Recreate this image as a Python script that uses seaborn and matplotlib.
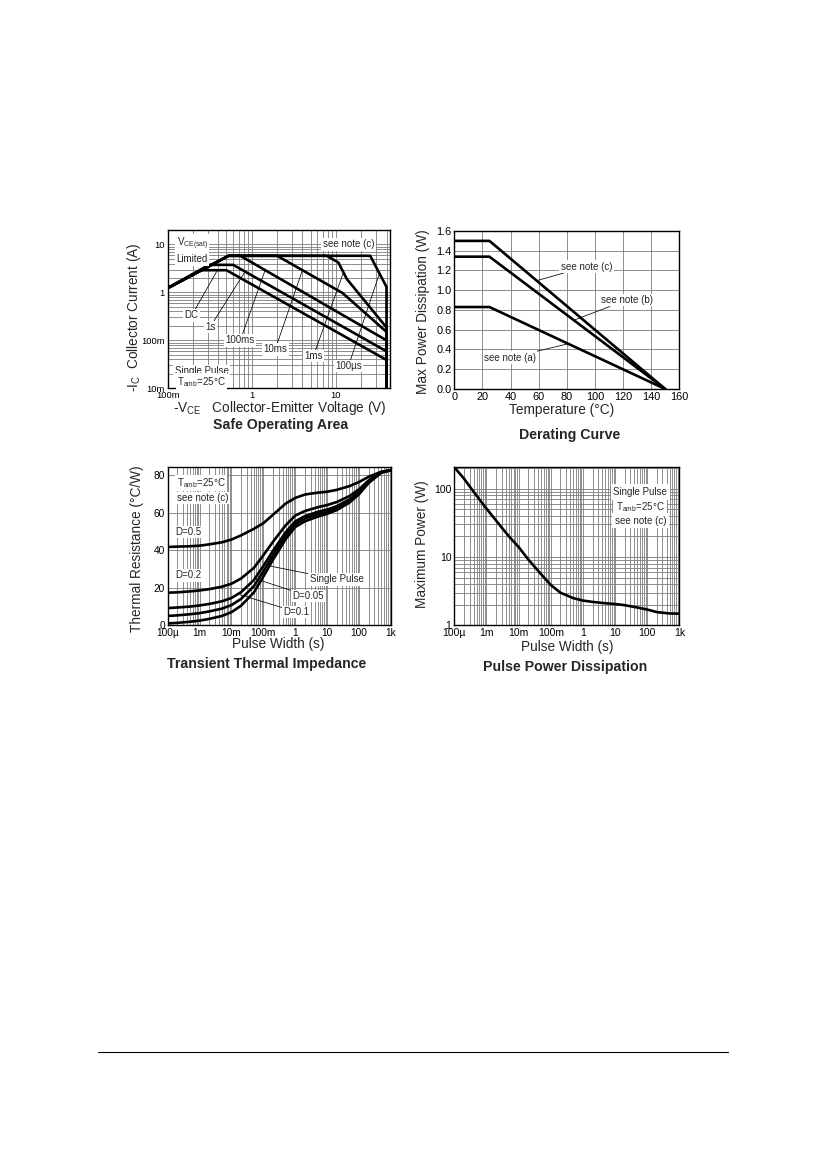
import numpy as np
import pandas as pd
import matplotlib
matplotlib.use("Agg")
import matplotlib.pyplot as plt
import seaborn as sns
from matplotlib.ticker import LogLocator, NullFormatter, FixedLocator, FixedFormatter, MultipleLocator
from matplotlib.lines import Line2D

# ---------------- data ----------------
# Safe operating area (-VCE [V], -IC [A])
soa_dc_v = [0.1, 0.25, 0.5, 40, 40]
soa_dc_i = [1.23, 2.9, 2.9, 0.039, 0.01]
soa_1s_v = [0.1, 0.31, 0.6, 40, 40]
soa_1s_i = [1.23, 3.75, 3.75, 0.059, 0.01]
soa_100ms_v = [0.1, 0.53, 0.73, 40, 40]
soa_100ms_i = [1.23, 5.8, 5.8, 0.1, 0.01]
soa_10ms_v = [0.1, 0.53, 2.0, 12.0, 40, 40]
soa_10ms_i = [1.23, 5.8, 5.8, 0.97, 0.15, 0.01]
soa_1ms_v = [0.1, 0.53, 7.8, 10.7, 13.5, 40, 40]
soa_1ms_i = [1.23, 5.8, 5.8, 4.2, 1.9, 0.185, 0.01]
soa_100us_v = [0.1, 0.53, 25.6, 40, 40]
soa_100us_i = [1.23, 5.8, 5.8, 1.3, 0.01]
soa_xticks = [0.1, 1, 10]
soa_xticklabels = ["100m", "1", "10"]
soa_yticks = [0.01, 0.1, 1, 10]
soa_yticklabels = ["10m", "100m", "1", "10"]

# Derating curve (temperature [°C], power [W])
der_temp = [0, 25, 150]
der_note_c = [1.5, 1.5, 0.0]
der_note_b = [1.34, 1.34, 0.0]
der_note_a = [0.83, 0.83, 0.0]

# Transient thermal impedance (pulse width [s], Zth [°C/W])
tw = [1e-4, 2e-4, 5e-4, 1e-3, 2e-3, 5e-3, 1e-2, 2e-2, 5e-2, 0.1, 0.2, 0.5,
      1, 2, 5, 10, 20, 50, 100, 200, 500, 1000]
zth_d05 = [41.8, 42.0, 42.2, 42.5, 43.2, 44.3, 45.8, 48.0, 51.5, 54.5, 59.0, 65.0,
           68.0, 69.8, 70.8, 71.3, 72.3, 74.3, 76.5, 79.3, 82.0, 82.8]
zth_d02 = [17.4, 17.6, 18.1, 18.6, 19.3, 20.6, 22.2, 25.0, 30.6, 37.4, 44.6, 53.4,
           58.6, 61.0, 63.0, 64.2, 65.8, 69.0, 72.6, 77.4, 81.8, 82.8]
zth_d01 = [9.2, 9.5, 10.0, 10.6, 11.4, 12.8, 14.6, 17.7, 24.1, 31.7, 39.8, 49.7,
           55.5, 58.3, 60.5, 61.8, 63.6, 67.2, 71.3, 76.7, 81.7, 82.8]
zth_d005 = [5.0, 5.3, 5.9, 6.5, 7.4, 8.9, 10.8, 14.1, 20.8, 28.8, 37.4, 47.8,
            54.0, 57.0, 59.3, 60.7, 62.6, 66.4, 70.7, 76.4, 81.6, 82.8]
zth_single = [1.0, 1.3, 1.9, 2.5, 3.4, 5.0, 7.0, 10.5, 17.5, 26.0, 35.0, 46.0,
              52.5, 55.5, 58.0, 59.5, 61.5, 65.5, 70.0, 76.0, 81.5, 82.8]

# Pulse power dissipation (pulse width [s], max power [W])
ppd_power = [205, 140, 78, 51, 34, 20, 14, 9.2, 5.6, 3.9, 3.0, 2.5,
             2.3, 2.2, 2.1, 2.05, 1.97, 1.82, 1.7, 1.56, 1.49, 1.48]

tw_ticks = [1e-4, 1e-3, 1e-2, 1e-1, 1, 10, 100, 1000]
tw_ticklabels = ["100\u00b5", "1m", "10m", "100m", "1", "10", "100", "1k"]

# ---------------- style ----------------
sns.set_style("white")
plt.rcParams['font.family'] = ['Liberation Sans', 'DejaVu Sans']
plt.rcParams['mathtext.fontset'] = 'custom'
plt.rcParams['mathtext.rm'] = 'Liberation Sans'
plt.rcParams['mathtext.it'] = 'Liberation Sans:italic'
plt.rcParams['mathtext.bf'] = 'Liberation Sans:bold'
plt.rcParams['mathtext.sf'] = 'Liberation Sans'

W, H = 826, 1169
fig = plt.figure(figsize=(W / 100, H / 100), dpi=100)
fig.patch.set_facecolor('white')

LAB = 9.8
TIT = 10.2
ANN = 7.0
GRID = dict(color='#7c7c7c', lw=0.6)
LW = 1.9


def px_axes(l, t, r, b):
    return fig.add_axes([l / W, 1 - b / H, (r - l) / W, (b - t) / H])


def style(ax, tick):
    for s in ax.spines.values():
        s.set_color('black')
        s.set_linewidth(1.0)
        s.set_visible(True)
    ax.tick_params(which='both', length=0, labelsize=tick, pad=2, colors='black')
    ax.set_axisbelow(True)
    ax.set_facecolor('white')


def curve(ax, x, y):
    sns.lineplot(x=x, y=y, ax=ax, color='black', lw=LW, sort=False,
                 estimator=None, legend=False)


box = dict(facecolor='white', edgecolor='none', pad=1.0)
lead = dict(arrowstyle='-', lw=0.55, color='black', shrinkA=0, shrinkB=0)


def note(ax, txt, xy, xyt, **kw):
    ax.annotate(txt, xy=xy, xytext=xyt, fontsize=ANN, ha='center', va='center',
                bbox=box, arrowprops=lead, **kw)


# ---------------- Safe Operating Area ----------------
ax1 = px_axes(167.7, 230, 390, 388.3)
style(ax1, 6.8)
ax1.set_xscale('log')
ax1.set_yscale('log')
ax1.set_xlim(0.1, 44)
ax1.set_ylim(0.01, 20)
for v, i in [(soa_dc_v, soa_dc_i), (soa_1s_v, soa_1s_i), (soa_100ms_v, soa_100ms_i),
             (soa_10ms_v, soa_10ms_i), (soa_1ms_v, soa_1ms_i), (soa_100us_v, soa_100us_i)]:
    curve(ax1, v, i)
for axis, ticks, labels in [(ax1.xaxis, soa_xticks, soa_xticklabels),
                            (ax1.yaxis, soa_yticks, soa_yticklabels)]:
    axis.set_major_locator(FixedLocator(ticks))
    axis.set_major_formatter(FixedFormatter(labels))
    axis.set_minor_locator(LogLocator(base=10, subs=range(2, 10), numticks=20))
    axis.set_minor_formatter(NullFormatter())
ax1.grid(True, which='both', **GRID)
ax1.set_xlabel(r"-V$_{\rm CE}$   Collector-Emitter Voltage (V)", fontsize=LAB)
ax1.xaxis.set_label_coords(0.505, -0.126)
ax1.xaxis.label.set_va('center')
ax1.set_ylabel(r"-I$_{\rm C}$  Collector Current (A)", fontsize=LAB)
ax1.yaxis.set_label_coords(-0.152, 0.45)
ax1.yaxis.label.set_va('center')

note(ax1, "DC", (0.39, 2.9), (0.193, 0.33))
note(ax1, "1s", (0.83, 2.7), (0.319, 0.189))
note(ax1, "100ms", (1.44, 2.9), (0.73, 0.1))
note(ax1, "10ms", (4.0, 2.9), (1.9, 0.065))
note(ax1, "1ms", (12.3, 2.6), (5.4, 0.047))
note(ax1, "100\u00b5s", (33, 2.5), (14.1, 0.029))
ax1.text(14.1, 10, "see note (c)", fontsize=ANN, ha='center', va='center', bbox=box)
ax1.text(0.128, 10.2, r"V$_{\rm CE(sat)}$", fontsize=ANN, ha='left', va='center', bbox=box)
ax1.text(0.128, 4.9, "Limited", fontsize=ANN, ha='left', va='center', bbox=box)
ax1.text(0.254, 0.023, "Single Pulse", fontsize=ANN, ha='center', va='center', bbox=box)
ax1.text(0.254, 0.0137, r"T$_{\rm amb}$=25°C", fontsize=ANN, ha='center', va='center', bbox=box)

# ---------------- Derating Curve ----------------
ax2 = px_axes(454.3, 231, 679.3, 389)
style(ax2, 7.9)
curve(ax2, der_temp, der_note_c)
curve(ax2, der_temp, der_note_b)
curve(ax2, der_temp, der_note_a)
ax2.set_xlim(0, 160)
ax2.set_ylim(0, 1.6)
ax2.xaxis.set_major_locator(MultipleLocator(20))
ax2.yaxis.set_major_locator(MultipleLocator(0.2))
ax2.yaxis.set_major_formatter(matplotlib.ticker.FormatStrFormatter('%.1f'))
ax2.grid(True, which='major', **GRID)
ax2.set_xlabel("Temperature (°C)", fontsize=LAB)
ax2.xaxis.set_label_coords(0.475, -0.133)
ax2.xaxis.label.set_va('center')
ax2.set_ylabel("Max Power Dissipation (W)", fontsize=LAB)
ax2.yaxis.set_label_coords(-0.14, 0.487)
ax2.yaxis.label.set_va('center')
note(ax2, "see note (c)", (58.6, 1.097), (94, 1.24))
note(ax2, "see note (b)", (85, 0.697), (122.6, 0.90))
note(ax2, "see note (a)", (81, 0.458), (39.6, 0.317))

# ---------------- Transient Thermal Impedance ----------------
ax3 = px_axes(167.7, 467, 391, 625.3)
style(ax3, 7.3)
ax3.set_xscale('log')
for z in [zth_d05, zth_d02, zth_d01, zth_d005, zth_single]:
    curve(ax3, tw, z)
ax3.set_xlim(1e-4, 1e3)
ax3.set_ylim(0, 84.5)
ax3.xaxis.set_major_locator(FixedLocator(tw_ticks))
ax3.xaxis.set_major_formatter(FixedFormatter(tw_ticklabels))
ax3.xaxis.set_minor_locator(LogLocator(base=10, subs=range(2, 10), numticks=20))
ax3.xaxis.set_minor_formatter(NullFormatter())
ax3.yaxis.set_major_locator(MultipleLocator(20))
ax3.grid(True, which='both', **GRID)
ax3.set_xlabel("Pulse Width (s)", fontsize=LAB)
ax3.xaxis.set_label_coords(0.495, -0.118)
ax3.xaxis.label.set_va('center')
ax3.set_ylabel("Thermal Resistance (°C/W)", fontsize=LAB)
ax3.yaxis.set_label_coords(-0.136, 0.482)
ax3.yaxis.label.set_va('center')
ax3.text(1.9e-4, 76, r"T$_{\rm amb}$=25°C", fontsize=ANN, ha='left', va='center', bbox=box)
ax3.text(1.9e-4, 68, "see note (c)", fontsize=ANN, ha='left', va='center', bbox=box)
ax3.text(4.4e-4, 49.8, "D=0.5", fontsize=ANN, ha='center', va='center', bbox=box)
ax3.text(4.4e-4, 26.7, "D=0.2", fontsize=ANN, ha='center', va='center', bbox=box)
note(ax3, "Single Pulse", (0.126, 32), (19.9, 24.5))
note(ax3, "D=0.05", (0.055, 24.9), (2.56, 15.6))
note(ax3, "D=0.1", (0.0185, 16.3), (1.1, 7.1))

# ---------------- Pulse Power Dissipation ----------------
ax4 = px_axes(454.3, 467, 679.3, 625.3)
style(ax4, 7.5)
ax4.set_xscale('log')
ax4.set_yscale('log')
curve(ax4, tw, ppd_power)
ax4.set_xlim(1e-4, 1e3)
ax4.set_ylim(1, 207)
ax4.xaxis.set_major_locator(FixedLocator(tw_ticks))
ax4.xaxis.set_major_formatter(FixedFormatter(tw_ticklabels))
ax4.yaxis.set_major_locator(FixedLocator([1, 10, 100]))
ax4.yaxis.set_major_formatter(FixedFormatter(["1", "10", "100"]))
for axis in (ax4.xaxis, ax4.yaxis):
    axis.set_minor_locator(LogLocator(base=10, subs=range(2, 10), numticks=20))
    axis.set_minor_formatter(NullFormatter())
ax4.grid(True, which='both', **GRID)
ax4.set_xlabel("Pulse Width (s)", fontsize=LAB)
ax4.xaxis.set_label_coords(0.502, -0.137)
ax4.xaxis.label.set_va('center')
ax4.set_ylabel("Maximum Power (W)", fontsize=LAB)
ax4.yaxis.set_label_coords(-0.145, 0.51)
ax4.yaxis.label.set_va('center')
pbox = dict(facecolor='white', edgecolor='none', pad=2.0)
ax4.text(61, 90, "Single Pulse", fontsize=ANN, ha='center', va='center', bbox=pbox)
ax4.text(61, 54, r"T$_{\rm amb}$=25°C", fontsize=ANN, ha='center', va='center', bbox=pbox)
ax4.text(61, 34, "see note (c)", fontsize=ANN, ha='center', va='center', bbox=pbox)

# ---------------- titles ----------------
def ftext(x, y, s, **kw):
    fig.text(x / W, 1 - y / H, s, ha='center', va='center', **kw)

ftext(281, 425, "Safe Operating Area", fontsize=TIT, fontweight='bold')
ftext(570, 435, "Derating Curve", fontsize=TIT, fontweight='bold')
ftext(267, 664.3, "Transient Thermal Impedance", fontsize=TIT, fontweight='bold')
ftext(565, 667, "Pulse Power Dissipation", fontsize=TIT, fontweight='bold')

# page footer rule
fig.add_artist(Line2D([98 / W, 728 / W], [1 - 1052 / H, 1 - 1052 / H],
                      color='black', lw=0.8, transform=fig.transFigure))

fig.savefig("out.png", dpi=100, facecolor='white')
